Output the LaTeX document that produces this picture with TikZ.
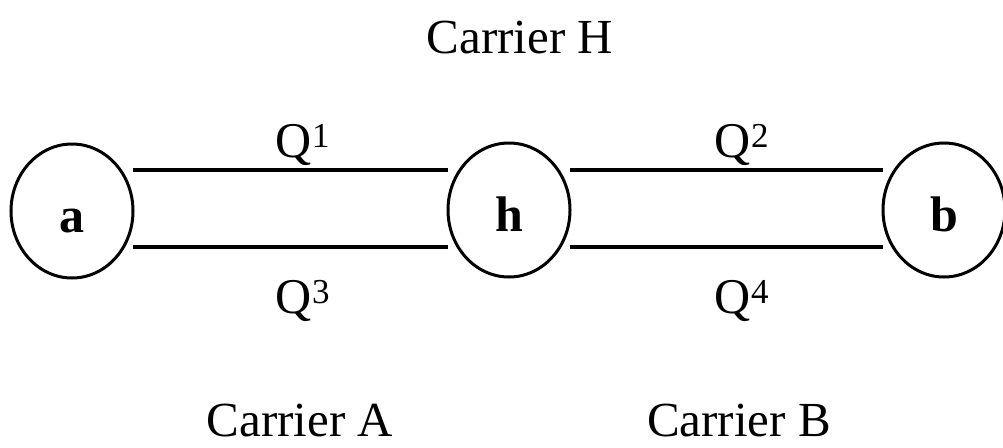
\documentclass[tikz,border=0pt]{standalone}
\usepackage{fontspec}
\setmainfont{Liberation Serif}
\usetikzlibrary{shapes.geometric}
\begin{document}
\begin{tikzpicture}[x=1pt,y=-1pt,
  site/.style={draw,line width=3pt,ellipse,minimum width=122pt,minimum height=134pt,inner sep=0pt,outer sep=0pt,text height=43pt,text depth=0pt,font=\fontsize{50}{60}\selectfont\bfseries},
  link/.style={line width=3.2pt},
  lab/.style={font=\fontsize{50}{60}\selectfont,inner sep=0pt,anchor=base},
  carrier/.style={font=\fontsize{49}{58}\selectfont,inner sep=0pt,text depth=0pt,anchor=base}]
\useasboundingbox (0,0) rectangle (1003,447);
\node[site] (a) at (72,211) {a};
\node[site] (h) at (509,210) {h};
\node[site] (b) at (944,210) {b};
\draw[link] (a.east |- 0,170) -- (h.west |- 0,170);
\draw[link] (a.east |- 0,247) -- (h.west |- 0,247);
\draw[link] (h.east |- 0,170) -- (b.west |- 0,170);
\draw[link] (h.east |- 0,247) -- (b.west |- 0,247);
\node[lab] (q1) at (303,157) {Q\textsuperscript{1}};
\node[lab] (q3) at (303,313) {Q\textsuperscript{3}};
\node[lab] (q2) at (742,157) {Q\textsuperscript{2}};
\node[lab] (q4) at (742,313) {Q\textsuperscript{4}};
\node[carrier] (ch) at (520,53) {Carrier H};
\node[carrier] (ca) at (300,436) {Carrier A};
\node[carrier] (cb) at (739,436) {Carrier B};
\end{tikzpicture}
\end{document}
